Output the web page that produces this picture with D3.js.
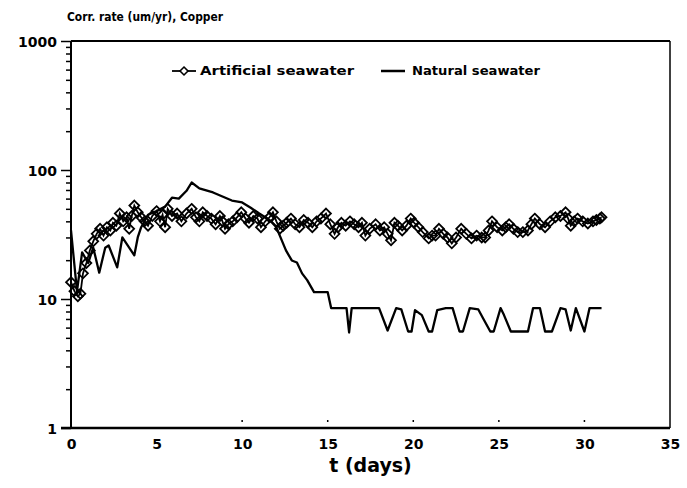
<!DOCTYPE html>
<html>
<head>
<meta charset="utf-8">
<script src="https://cdn.jsdelivr.net/npm/d3@7"></script>
<style>
  body { margin: 0; background: #fff; }
  text { font-family: "DejaVu Sans", sans-serif; font-weight: bold; fill: #000; }
</style>
</head>
<body>
<svg id="chart" width="687" height="488"></svg>
<script>
// Corrosion rate of copper, artificial vs natural seawater

const artificialT = [0.0, 0.2, 0.4, 0.55, 0.7, 0.9, 1.1, 1.3, 1.5, 1.7, 1.9, 2.1, 2.3, 2.45, 2.65, 2.85, 3.05, 3.25, 3.4, 3.55,
  3.7, 3.9, 4.1, 4.3, 4.5, 4.75, 5.0, 5.2, 5.35, 5.5, 5.65, 5.9, 6.2, 6.45, 6.75, 7.05, 7.3, 7.5, 7.7, 7.95,
  8.2, 8.45, 8.7, 8.85, 9.0, 9.2, 9.45, 9.7, 9.95, 10.2, 10.4, 10.65, 10.9, 11.1, 11.35, 11.6, 11.8, 12.0, 12.2, 12.4,
  12.6, 12.85, 13.1, 13.35, 13.6, 13.85, 14.1, 14.35, 14.6, 14.9, 15.15, 15.4, 15.6, 15.8, 16.05, 16.3, 16.55, 16.8, 17.0, 17.2,
  17.45, 17.8, 18.05, 18.3, 18.5, 18.7, 18.9, 19.1, 19.35, 19.6, 19.85, 20.05, 20.3, 20.55, 20.9, 21.1, 21.3, 21.5, 21.75, 22.0,
  22.25, 22.5, 22.8, 23.1, 23.4, 23.7, 24.0, 24.2, 24.4, 24.6, 24.9, 25.2, 25.4, 25.6, 25.85, 26.1, 26.4, 26.7, 26.9, 27.1,
  27.4, 27.7, 28.0, 28.3, 28.6, 28.9, 29.05, 29.2, 29.4, 29.6, 29.9, 30.2, 30.5, 30.7, 30.9, 31.0];
const artificialV = [13.5, 11.5, 10.5, 11, 15.8, 19, 23.8, 28, 32, 35, 31, 36, 34, 39, 37, 46, 40, 43, 35, 44,
  53, 47, 43, 40, 37, 44, 48, 40, 45, 36, 50, 44, 46, 40, 46, 50, 43, 40, 47, 44,
  42, 38, 44, 40, 35, 38, 40, 43, 47, 42, 39, 44, 42, 36, 40, 43, 47, 40, 35, 37,
  39, 42, 38, 36, 41, 39, 36, 40, 42, 46, 38, 32, 36, 39, 37, 40, 38, 36, 39, 31,
  35, 38, 34, 36, 32, 28.5, 39, 37, 34, 37, 42, 39, 36, 33, 29.5, 31, 31, 35, 32, 30,
  27, 30, 35, 32, 29.5, 31, 30, 30, 34, 40, 36, 34, 36, 38, 35, 33, 33, 34, 38, 42,
  38, 36, 40, 43, 44, 47, 42, 37, 40, 42, 40, 38.5, 40, 41, 42, 43];

const naturalT = [0.0, 0.35, 0.65, 1.0, 1.3, 1.65, 2.0, 2.2, 2.7, 3.0, 3.7, 3.9, 4.1, 4.5, 5.0, 5.5, 5.9, 6.3, 6.75, 7.05,
  7.5, 8.3, 9.4, 10.0, 10.5, 11.0, 11.6, 12.0, 12.2, 12.56, 12.9, 13.2, 13.5, 13.8, 14.2, 15.0, 15.2, 16.1, 16.25, 16.4,
  18.0, 18.5, 19.0, 19.3, 19.7, 19.9, 20.1, 20.5, 20.9, 21.1, 21.4, 21.9, 22.3, 22.7, 22.9, 23.3, 23.8, 24.1, 24.5, 24.7,
  25.1, 25.3, 25.7, 26.7, 27.0, 27.4, 27.7, 28.1, 28.6, 28.9, 29.2, 29.5, 30.0, 30.3, 31.0];
const naturalV = [34, 11.5, 23, 19, 25, 16, 25, 26, 17.6, 30, 21.8, 30, 36, 45, 48, 52, 61, 60, 69, 80,
  72, 67, 58, 56, 51, 46, 41, 36, 31, 23.8, 19.9, 19.2, 15.8, 14, 11.3, 11.3, 8.5, 8.5, 5.5, 8.5,
  8.5, 5.7, 8.5, 8.3, 5.6, 5.6, 8.2, 7.5, 5.6, 5.6, 8.2, 8.5, 8.5, 5.6, 5.6, 8.5, 8.3, 7, 5.6, 5.6,
  8.5, 7.5, 5.6, 5.6, 8.5, 8.5, 5.6, 5.6, 8.5, 8.3, 5.7, 8.5, 5.6, 8.5, 8.5];

const xTicks = [0, 5, 10, 15, 20, 25, 30, 35];
const yMajor = [1, 10, 100, 1000];
const titleText = "Corr. rate (um/yr), Copper";
const xTitle = "t (days)";
const seriesNames = ["Artificial seawater", "Natural seawater"];

const svg = d3.select("#chart");

const x = d3.scaleLinear().domain([0, 35]).range([71, 670]);
const y = d3.scaleLog().domain([1, 1000]).range([428, 41]);

const artificial = artificialT.map((t, i) => ({ t, v: artificialV[i] }));
const natural = naturalT.map((t, i) => ({ t, v: naturalV[i] }));

// y axis with log minor ticks
const yTickVals = [];
for (let e = 0; e < 3; e++) for (let m = 1; m < 10; m++) yTickVals.push(m * Math.pow(10, e));
yTickVals.push(1000);

const yAxis = svg.append("g")
  .attr("transform", `translate(${x(0)},0)`)
  .call(d3.axisLeft(y).tickValues(yTickVals).tickFormat(d => yMajor.includes(d) ? d : ""));
yAxis.select(".domain").remove();
yAxis.selectAll(".tick line")
  .attr("x2", d => yMajor.includes(d) ? -10 : -5)
  .attr("stroke", "#000")
  .attr("stroke-width", 1.5);
yAxis.selectAll(".tick text")
  .attr("x", -14)
  .attr("dy", "0.36em")
  .style("font-size", "14px");

// x axis labels, small dot ticks inside the frame
const xAxis = svg.append("g")
  .attr("transform", `translate(0,${y(1)})`)
  .call(d3.axisBottom(x).tickValues(xTicks).tickSize(0).tickPadding(11));
xAxis.select(".domain").remove();
xAxis.selectAll(".tick text").style("font-size", "14px");

svg.append("g").selectAll("line")
  .data(xTicks.filter(d => d > 5 && d < 35))
  .join("line")
  .attr("x1", d => x(d)).attr("x2", d => x(d))
  .attr("y1", y(1) - 6).attr("y2", y(1) - 8)
  .attr("stroke", "#000").attr("stroke-width", 1.5);

// frame
svg.append("line").attr("x1", x(0)).attr("x2", x(35)).attr("y1", y(1000)).attr("y2", y(1000))
  .attr("stroke", "#000").attr("stroke-width", 2.2);
svg.append("line").attr("x1", x(35)).attr("x2", x(35)).attr("y1", y(1000)).attr("y2", y(1))
  .attr("stroke", "#000").attr("stroke-width", 1.5);
svg.append("line").attr("x1", x(0)).attr("x2", x(0)).attr("y1", y(1000)).attr("y2", y(1))
  .attr("stroke", "#000").attr("stroke-width", 2);
svg.append("line").attr("x1", x(0) - 10).attr("x2", x(35)).attr("y1", y(1)).attr("y2", y(1))
  .attr("stroke", "#000").attr("stroke-width", 2.5);

// titles
svg.append("text").attr("x", 67).attr("y", 21)
  .attr("textLength", 156).attr("lengthAdjust", "spacingAndGlyphs")
  .style("font-size", "12.5px").text(titleText);
svg.append("text").attr("x", (x(0) + x(35)) / 2).attr("y", 472)
  .attr("text-anchor", "middle").style("font-size", "19px").text(xTitle);

const line = d3.line().x(d => x(d.t)).y(d => y(d.v));
const diamond = d3.symbol(d3.symbolDiamond2, 62);

// natural seawater
svg.append("path").datum(natural)
  .attr("d", line)
  .attr("fill", "none").attr("stroke", "#000").attr("stroke-width", 2.3)
  .attr("stroke-linejoin", "round");

// artificial seawater
svg.append("path").datum(artificial)
  .attr("d", line)
  .attr("fill", "none").attr("stroke", "#000").attr("stroke-width", 1.8);
svg.append("g").selectAll("path")
  .data(artificial)
  .join("path")
  .attr("transform", d => `translate(${x(d.t)},${y(d.v)})`)
  .attr("d", diamond)
  .attr("fill", "none").attr("stroke", "#000").attr("stroke-width", 1.8);

// legend
const leg = svg.append("g");
leg.append("line").attr("x1", 172).attr("x2", 196).attr("y1", 71).attr("y2", 71)
  .attr("stroke", "#000").attr("stroke-width", 1.8);
leg.append("path").attr("transform", "translate(184,71)").attr("d", d3.symbol(d3.symbolDiamond2, 40))
  .attr("fill", "#fff").attr("stroke", "#000").attr("stroke-width", 1.6);
leg.append("text").attr("x", 200).attr("y", 75)
  .attr("textLength", 154).attr("lengthAdjust", "spacingAndGlyphs")
  .style("font-size", "11.5px").text(seriesNames[0]);
leg.append("line").attr("x1", 381).attr("x2", 405).attr("y1", 71).attr("y2", 71)
  .attr("stroke", "#000").attr("stroke-width", 2.5);
leg.append("text").attr("x", 412).attr("y", 75)
  .attr("textLength", 128).attr("lengthAdjust", "spacingAndGlyphs")
  .style("font-size", "11.5px").text(seriesNames[1]);
</script>
</body>
</html>
